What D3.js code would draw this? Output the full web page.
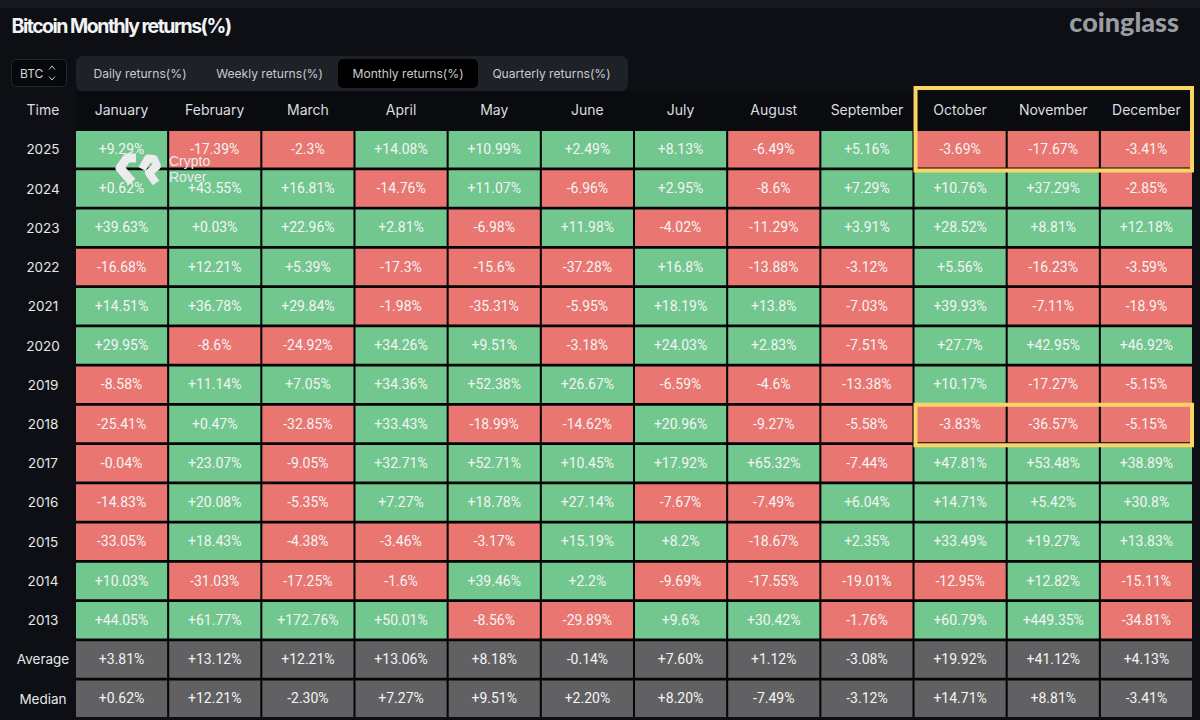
<!DOCTYPE html>
<html>
<head>
<meta charset="utf-8">
<title>Bitcoin Monthly returns(%)</title>
<script src="https://cdn.jsdelivr.net/npm/d3@7"></script>
<style>
html, body { margin: 0; padding: 0; background: #0d0f14; }
svg { display: block; }
</style>
</head>
<body>
<svg id="chart" width="1200" height="720"></svg>
<script>
var months = ['January','February','March','April','May','June','July','August','September','October','November','December'];
var rowNames = ['2025','2024','2023','2022','2021','2020','2019','2018','2017','2016','2015','2014','2013','Average','Median'];
var tabs = ['Daily returns(%)','Weekly returns(%)','Monthly returns(%)','Quarterly returns(%)'];

var r2025 = ['+9.29%','-17.39%','-2.3%','+14.08%','+10.99%','+2.49%','+8.13%','-6.49%','+5.16%','-3.69%','-17.67%','-3.41%'];
var r2024 = ['+0.62%','+43.55%','+16.81%','-14.76%','+11.07%','-6.96%','+2.95%','-8.6%','+7.29%','+10.76%','+37.29%','-2.85%'];
var r2023 = ['+39.63%','+0.03%','+22.96%','+2.81%','-6.98%','+11.98%','-4.02%','-11.29%','+3.91%','+28.52%','+8.81%','+12.18%'];
var r2022 = ['-16.68%','+12.21%','+5.39%','-17.3%','-15.6%','-37.28%','+16.8%','-13.88%','-3.12%','+5.56%','-16.23%','-3.59%'];
var r2021 = ['+14.51%','+36.78%','+29.84%','-1.98%','-35.31%','-5.95%','+18.19%','+13.8%','-7.03%','+39.93%','-7.11%','-18.9%'];
var r2020 = ['+29.95%','-8.6%','-24.92%','+34.26%','+9.51%','-3.18%','+24.03%','+2.83%','-7.51%','+27.7%','+42.95%','+46.92%'];
var r2019 = ['-8.58%','+11.14%','+7.05%','+34.36%','+52.38%','+26.67%','-6.59%','-4.6%','-13.38%','+10.17%','-17.27%','-5.15%'];
var r2018 = ['-25.41%','+0.47%','-32.85%','+33.43%','-18.99%','-14.62%','+20.96%','-9.27%','-5.58%','-3.83%','-36.57%','-5.15%'];
var r2017 = ['-0.04%','+23.07%','-9.05%','+32.71%','+52.71%','+10.45%','+17.92%','+65.32%','-7.44%','+47.81%','+53.48%','+38.89%'];
var r2016 = ['-14.83%','+20.08%','-5.35%','+7.27%','+18.78%','+27.14%','-7.67%','-7.49%','+6.04%','+14.71%','+5.42%','+30.8%'];
var r2015 = ['-33.05%','+18.43%','-4.38%','-3.46%','-3.17%','+15.19%','+8.2%','-18.67%','+2.35%','+33.49%','+19.27%','+13.83%'];
var r2014 = ['+10.03%','-31.03%','-17.25%','-1.6%','+39.46%','+2.2%','-9.69%','-17.55%','-19.01%','-12.95%','+12.82%','-15.11%'];
var r2013 = ['+44.05%','+61.77%','+172.76%','+50.01%','-8.56%','-29.89%','+9.6%','+30.42%','-1.76%','+60.79%','+449.35%','-34.81%'];
var rAverage = ['+3.81%','+13.12%','+12.21%','+13.06%','+8.18%','-0.14%','+7.60%','+1.12%','-3.08%','+19.92%','+41.12%','+4.13%'];
var rMedian = ['+0.62%','+12.21%','-2.30%','+7.27%','+9.51%','+2.20%','+8.20%','-7.49%','-3.12%','+14.71%','+8.81%','-3.41%'];
var allRows = [r2025,r2024,r2023,r2022,r2021,r2020,r2019,r2018,r2017,r2016,r2015,r2014,r2013,rAverage,rMedian];

var green = '#72c78f', red = '#ea7672', grey = '#616163';
var font = 'Inter, Roboto, sans-serif';
var cellFont = 'Roboto, Inter, sans-serif';

var svg = d3.select('#chart');

// page background and the lighter strip along the top
svg.append('rect').attr('width', 1200).attr('height', 720).attr('fill', '#0d0f14');
svg.append('rect').attr('width', 1200).attr('height', 8).attr('fill', '#16181d');

var x = d3.scaleBand().domain(months).range([76, 1192]).paddingInner(0.022).paddingOuter(0);
var y = d3.scaleBand().domain(rowNames).range([131, 717]).paddingInner(0.07).paddingOuter(0);

// title and logo
svg.append('text').attr('x', 11.5).attr('y', 33).text('Bitcoin Monthly returns(%)')
	.attr('fill', '#f2f3f5').attr('font-family', font).attr('font-size', 19.5).attr('font-weight', 700).attr('letter-spacing', -1.5);
svg.append('text').attr('x', 1179).attr('y', 32).attr('text-anchor', 'end').text('coinglass')
	.attr('fill', '#999ca2').attr('font-family', 'Lato, sans-serif').attr('font-size', 27).attr('font-weight', 900);

// coin selector
svg.append('rect').attr('x', 11.5).attr('y', 59.5).attr('width', 55).attr('height', 27).attr('rx', 4)
	.attr('fill', '#07080b').attr('stroke', '#25272d');
svg.append('text').attr('x', 20).attr('y', 78).text('BTC')
	.attr('fill', '#d4d5d8').attr('font-family', font).attr('font-size', 12);
svg.append('path').attr('d', 'M49 69.5l3-3.5 3 3.5M49 76.5l3 3.5 3-3.5')
	.attr('fill', 'none').attr('stroke', '#c4c5c9').attr('stroke-width', 1);

// tab bar
svg.append('rect').attr('x', 76).attr('y', 56).attr('width', 552).attr('height', 35).attr('rx', 7).attr('fill', '#1e2127');
svg.append('rect').attr('x', 338).attr('y', 59).attr('width', 140).attr('height', 29).attr('rx', 5).attr('fill', '#000');
var tabX = [140, 269.5, 408, 551.5];
svg.selectAll('.tab').data(tabs).join('text').attr('class', 'tab')
	.attr('x', function(d, i){ return tabX[i]; }).attr('y', 78).attr('text-anchor', 'middle').text(function(d){ return d; })
	.attr('fill', '#c9cacd').attr('font-family', font).attr('font-size', 12.1);

// header row and the black gaps of the table
svg.append('rect').attr('x', 76).attr('y', 92).attr('width', 1116).attr('height', 39).attr('fill', '#0a0b0f');
svg.append('rect').attr('x', 76).attr('y', 131).attr('width', 1116).attr('height', 586).attr('fill', '#050506');
svg.append('text').attr('x', 43).attr('y', 115).attr('text-anchor', 'middle').text('Time')
	.attr('fill', '#dcdde0').attr('font-family', font).attr('font-size', 14);
svg.selectAll('.month').data(months).join('text').attr('class', 'month')
	.attr('x', function(d){ return x(d) + x.bandwidth() / 2; }).attr('y', 115).attr('text-anchor', 'middle')
	.text(function(d){ return d; })
	.attr('fill', '#dcdde0').attr('font-family', font).attr('font-size', 14);

// row labels
svg.selectAll('.rowname').data(rowNames).join('text').attr('class', 'rowname')
	.attr('x', 43).attr('y', function(d){ return y(d) + y.bandwidth() / 2 + 5; }).attr('text-anchor', 'middle')
	.text(function(d){ return d; })
	.attr('fill', '#e6e7e9').attr('font-family', font).attr('font-size', 13.5);

// table body
var rowG = svg.selectAll('.row').data(rowNames).join('g').attr('class', 'row')
	.attr('transform', function(d){ return 'translate(0,' + y(d) + ')'; });

var cells = rowG.selectAll('.cell')
	.data(function(d, i){
		return allRows[i].map(function(v, j){
			return { row: d, month: months[j], label: v, val: parseFloat(v) };
		});
	})
	.join('g').attr('class', 'cell')
	.attr('transform', function(d){ return 'translate(' + x(d.month) + ',0)'; });

cells.append('rect').attr('width', x.bandwidth()).attr('height', y.bandwidth())
	.attr('fill', function(d){
		if (d.row === 'Average' || d.row === 'Median') return grey;
		return d.val >= 0 ? green : red;
	});

cells.append('text').attr('x', x.bandwidth() / 2).attr('y', y.bandwidth() / 2 + 4.7).attr('text-anchor', 'middle')
	.text(function(d){ return d.label; })
	.attr('fill', '#f4f4f4').attr('font-family', cellFont).attr('font-size', 14);

// yellow highlight boxes
function highlight(y0, y1) {
	svg.append('rect')
		.attr('x', x('October') + 1).attr('y', y0)
		.attr('width', x('December') + x.bandwidth() - x('October') - 1).attr('height', y1 - y0)
		.attr('fill', 'none').attr('stroke', '#fad565').attr('stroke-width', 4);
}
highlight(88, y('2025') + y.bandwidth() + 3);
highlight(y('2018') - 1, y('2018') + y.bandwidth() + 3);

// Crypto Rover watermark
var mark = svg.append('g').attr('fill', 'none').attr('stroke', '#ecebee').attr('stroke-linejoin', 'round');
mark.append('path').attr('d', 'M136 158 L127 158 L120 168 L132 182')
	.attr('stroke-width', 9);
mark.append('path').attr('d', 'M142 169 L148 158.5 L154 159 L157 166 L149 173 L156 183')
	.attr('stroke-width', 8);
var markText = svg.append('g').attr('fill', '#e9ecea').attr('font-family', '"Liberation Sans", sans-serif').attr('font-size', 14);
markText.append('text').attr('x', 169).attr('y', 166).text('Crypto');
markText.append('text').attr('x', 169).attr('y', 182).text('Rover');
</script>
</body>
</html>
